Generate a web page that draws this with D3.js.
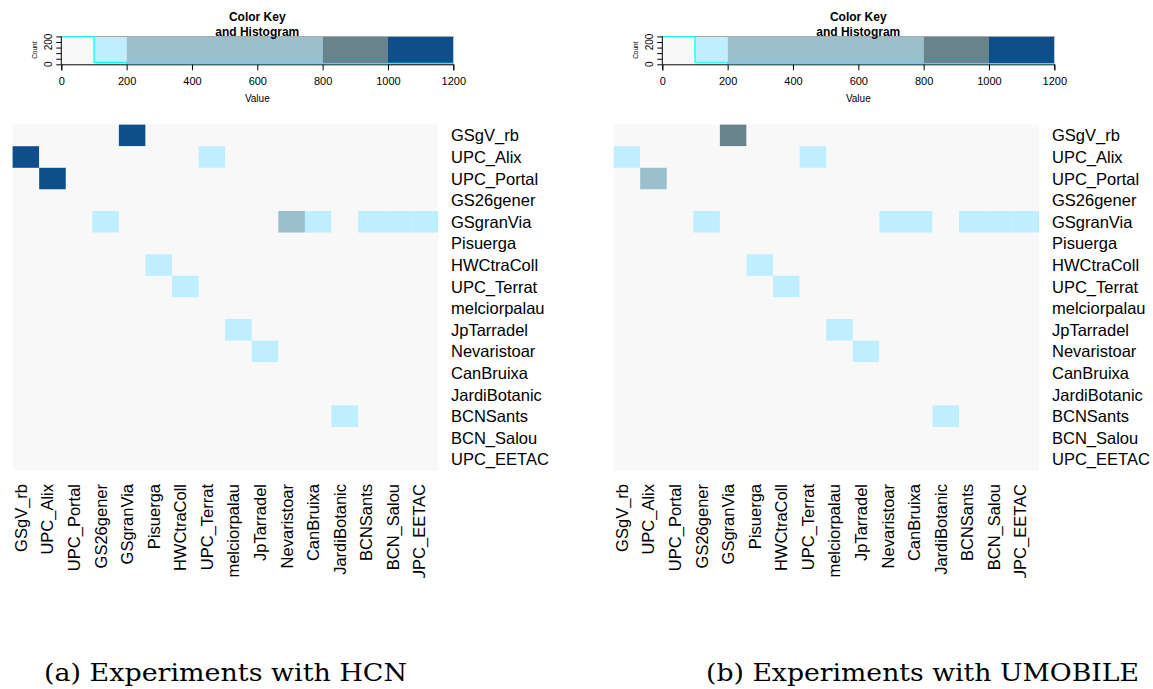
<!DOCTYPE html>
<html>
<head>
<meta charset="utf-8">
<script src="https://cdn.jsdelivr.net/npm/d3@7"></script>
<style>
  body { margin: 0; background: #fff; }
  text { font-family: "Liberation Sans", Arial, sans-serif; fill: #000; }
  .caption { font-family: "DejaVu Serif", "Liberation Serif", serif; }
</style>
</head>
<body>
<svg id="chart" width="1153" height="689"></svg>
<script>
// station names, same order for rows and columns
const stations = ["GSgV_rb", "UPC_Alix", "UPC_Portal", "GS26gener", "GSgranVia", "Pisuerga",
  "HWCtraColl", "UPC_Terrat", "melciorpalau", "JpTarradel", "Nevaristoar", "CanBruixa",
  "JardiBotanic", "BCNSants", "BCN_Salou", "UPC_EETAC"];

// (a) HCN
const hcnMatrix = [
  [0,0,0,0,1100,0,0,0,0,0,0,0,0,0,0,0],
  [1100,0,0,0,0,0,0,150,0,0,0,0,0,0,0,0],
  [0,1100,0,0,0,0,0,0,0,0,0,0,0,0,0,0],
  [0,0,0,0,0,0,0,0,0,0,0,0,0,0,0,0],
  [0,0,0,150,0,0,0,0,0,0,500,150,0,150,150,150],
  [0,0,0,0,0,0,0,0,0,0,0,0,0,0,0,0],
  [0,0,0,0,0,150,0,0,0,0,0,0,0,0,0,0],
  [0,0,0,0,0,0,150,0,0,0,0,0,0,0,0,0],
  [0,0,0,0,0,0,0,0,0,0,0,0,0,0,0,0],
  [0,0,0,0,0,0,0,0,150,0,0,0,0,0,0,0],
  [0,0,0,0,0,0,0,0,0,150,0,0,0,0,0,0],
  [0,0,0,0,0,0,0,0,0,0,0,0,0,0,0,0],
  [0,0,0,0,0,0,0,0,0,0,0,0,0,0,0,0],
  [0,0,0,0,0,0,0,0,0,0,0,0,150,0,0,0],
  [0,0,0,0,0,0,0,0,0,0,0,0,0,0,0,0],
  [0,0,0,0,0,0,0,0,0,0,0,0,0,0,0,0]
];

// (b) UMOBILE
const umobileMatrix = [
  [0,0,0,0,900,0,0,0,0,0,0,0,0,0,0,0],
  [150,0,0,0,0,0,0,150,0,0,0,0,0,0,0,0],
  [0,500,0,0,0,0,0,0,0,0,0,0,0,0,0,0],
  [0,0,0,0,0,0,0,0,0,0,0,0,0,0,0,0],
  [0,0,0,150,0,0,0,0,0,0,150,150,0,150,150,150],
  [0,0,0,0,0,0,0,0,0,0,0,0,0,0,0,0],
  [0,0,0,0,0,150,0,0,0,0,0,0,0,0,0,0],
  [0,0,0,0,0,0,150,0,0,0,0,0,0,0,0,0],
  [0,0,0,0,0,0,0,0,0,0,0,0,0,0,0,0],
  [0,0,0,0,0,0,0,0,150,0,0,0,0,0,0,0],
  [0,0,0,0,0,0,0,0,0,150,0,0,0,0,0,0],
  [0,0,0,0,0,0,0,0,0,0,0,0,0,0,0,0],
  [0,0,0,0,0,0,0,0,0,0,0,0,0,0,0,0],
  [0,0,0,0,0,0,0,0,0,0,0,0,150,0,0,0],
  [0,0,0,0,0,0,0,0,0,0,0,0,0,0,0,0],
  [0,0,0,0,0,0,0,0,0,0,0,0,0,0,0,0]
];

// colour key
const keyBreaks = [0, 100, 200, 800, 1000, 1200];
const keyColors = ["#F8F8F8", "#BFEFFF", "#9AC0CD", "#68838B", "#104E8B"];
const keyTicks = [0, 200, 400, 600, 800, 1000, 1200];
const countTicks = [0, 50, 100, 150, 200, 250];
const countLabels = [0, 200];

const captions = ["(a) Experiments with HCN", "(b) Experiments with UMOBILE"];

const svg = d3.select("#chart");

const color = d3.scaleThreshold()
  .domain(keyBreaks.slice(1, -1))
  .range(keyColors);

function drawPanel(dx, matrix, caption, capX, capW, clipId) {
  const g = svg.append("g").attr("transform", "translate(" + dx + ",0)");

  // ---- colour key + histogram ----
  const kx = d3.scaleLinear().domain([0, 1200]).range([61.3, 453.3]);
  const keyTop = 36, keyBottom = 64.3;

  g.selectAll(".keycell")
    .data(d3.pairs(keyBreaks))
    .enter().append("rect")
      .attr("x", d => kx(d[0]))
      .attr("y", keyTop)
      .attr("width", d => kx(d[1]) - kx(d[0]))
      .attr("height", keyBottom - keyTop)
      .style("fill", d => color(d[0]));

  g.append("line")
    .attr("x1", kx(0)).attr("x2", kx(1200))
    .attr("y1", keyTop + 0.5).attr("y2", keyTop + 0.5)
    .style("stroke", "#aaa").style("stroke-width", 1);

  const values = matrix.flat();
  const bins = d3.bin()
    .domain([0, 1200])
    .thresholds(keyBreaks.slice(1, -1))(values);
  const counts = bins.map(b => b.length);
  const maxCount = d3.max(counts);

  const ky = d3.scaleLinear()
    .domain([0, maxCount / 0.95])
    .range([keyBottom, keyTop]);

  // x axis of the key
  const xAxis = g.append("g")
    .attr("transform", "translate(0," + keyBottom + ")")
    .call(d3.axisBottom(kx).tickValues(keyTicks).tickSize(6).tickPadding(7).tickFormat(d3.format("d")));
  xAxis.select(".domain").style("stroke", "#000");
  xAxis.selectAll("text").style("font-size", "11px").style("font-family", "Liberation Sans, Arial, sans-serif");

  // histogram drawn over the axis line, as in the original
  const histPts = keyBreaks.map((b, i) => [b, counts[Math.min(i, counts.length - 1)]]);
  g.append("path")
    .datum(histPts)
    .attr("d", d3.line().x(d => kx(d[0])).y(d => ky(d[1]) - 0.6).curve(d3.curveStepAfter))
    .style("fill", "none")
    .style("stroke", "#00FFFF")
    .style("stroke-width", 1.2);

  // count axis
  const yAxis = g.append("g")
    .attr("transform", "translate(" + kx(0) + ",0)")
    .call(d3.axisLeft(ky).tickValues(countTicks).tickSize(5).tickFormat(""));
  yAxis.select(".domain").attr("d", "M0," + ky(0) + "V" + ky(250));
  g.selectAll(".countlab")
    .data(countLabels)
    .enter().append("text")
      .attr("transform", d => "translate(" + (kx(0) - 9) + "," + ky(d) + ") rotate(-90)")
      .attr("text-anchor", "middle")
      .style("font-size", "10px")
      .text(d => d);
  g.append("text")
    .attr("transform", "translate(37," + ((keyTop + keyBottom) / 2) + ") rotate(-90)")
    .attr("text-anchor", "middle")
    .style("font-size", "6.5px")
    .text("Count");

  g.append("text")
    .attr("x", (kx(0) + kx(1200)) / 2).attr("y", 102)
    .attr("text-anchor", "middle")
    .style("font-size", "10px")
    .text("Value");

  g.append("text")
    .attr("x", (kx(0) + kx(1200)) / 2).attr("y", 21)
    .attr("text-anchor", "middle")
    .style("font-size", "12px").style("font-weight", "bold")
    .text("Color Key");
  g.append("text")
    .attr("x", (kx(0) + kx(1200)) / 2).attr("y", 35.5)
    .attr("text-anchor", "middle")
    .style("font-size", "12px").style("font-weight", "bold")
    .text("and Histogram");

  // ---- heatmap ----
  const x = d3.scaleBand().domain(stations).range([12.6, 437.7]);
  const y = d3.scaleBand().domain(stations).range([124.6, 470.2]);

  const cells = [];
  matrix.forEach((row, i) => row.forEach((v, j) => cells.push({row: stations[i], col: stations[j], value: v})));

  g.selectAll(".cell")
    .data(cells)
    .enter().append("rect")
      .attr("x", d => x(d.col))
      .attr("y", d => y(d.row))
      .attr("width", x.bandwidth() + 0.3)
      .attr("height", y.bandwidth() + 0.3)
      .style("fill", d => color(d.value));

  g.selectAll(".rowlab")
    .data(stations)
    .enter().append("text")
      .attr("x", 451)
      .attr("y", d => y(d) + y.bandwidth() / 2)
      .attr("dy", "0.36em")
      .style("font-size", "16.5px")
      .text(d => d);

  g.append("clipPath").attr("id", clipId)
    .append("rect").attr("x", 0).attr("y", 475).attr("width", 460).attr("height", 103);

  g.append("g")
    .attr("clip-path", "url(#" + clipId + ")")
    .selectAll(".collab")
    .data(stations)
    .enter().append("text")
      .attr("transform", d => "translate(" + (x(d) + x.bandwidth() / 2 + 1) + ",484) rotate(-90)")
      .attr("text-anchor", "end")
      .style("font-size", "16.5px")
      .text(d => d);

  // caption
  svg.append("text")
    .attr("class", "caption")
    .attr("x", capX).attr("y", 681)
    .attr("textLength", capW)
    .attr("lengthAdjust", "spacingAndGlyphs")
    .style("font-size", "25px")
    .text(caption);
}

drawPanel(0, hcnMatrix, captions[0], 44, 363, "clipA");
drawPanel(601, umobileMatrix, captions[1], 706, 433, "clipB");
</script>
</body>
</html>
